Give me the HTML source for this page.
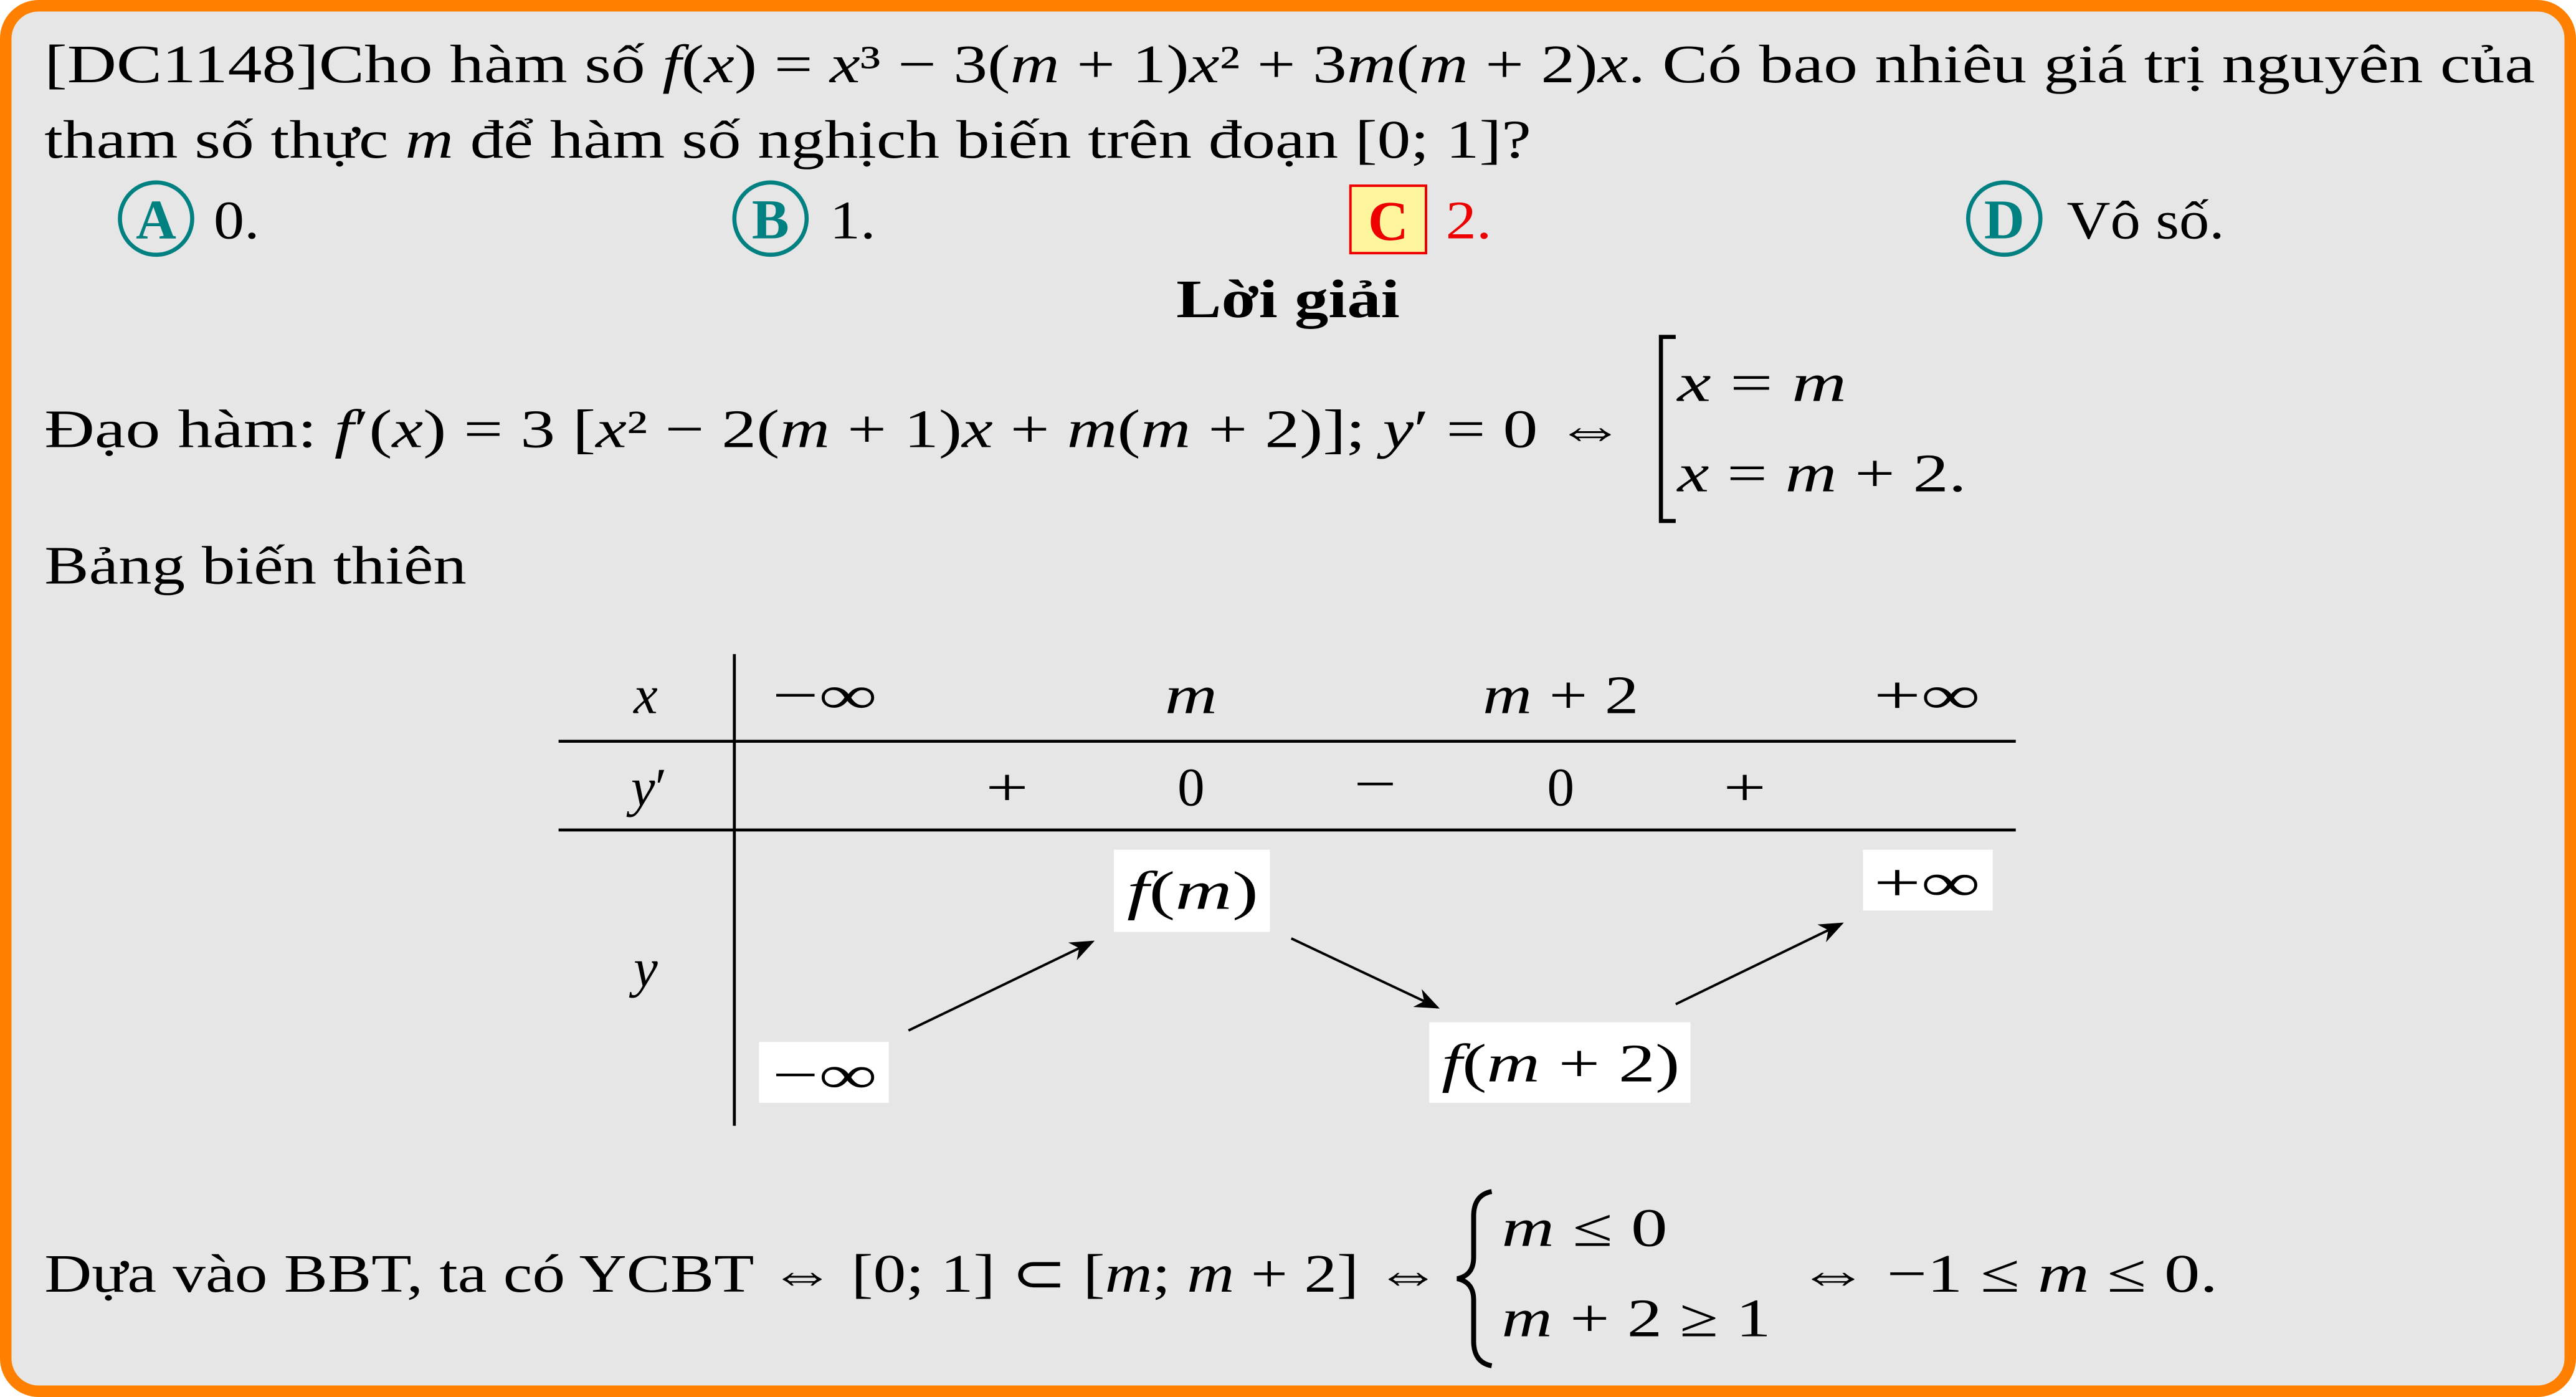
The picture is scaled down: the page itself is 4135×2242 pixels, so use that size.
<!DOCTYPE html>
<html><head><meta charset="utf-8">
<style>
html,body{margin:0;padding:0;background:#fff;}
svg{display:block;}
text{font-family:"Liberation Serif",serif;fill:#000;}
.m{font-style:italic;}
</style></head>
<body>
<svg width="4135" height="2242" viewBox="0 0 1568 850" preserveAspectRatio="none" xmlns="http://www.w3.org/2000/svg">
<rect x="3.5" y="3.5" width="1561" height="843" rx="20" fill="#e6e6e6" stroke="#ff8000" stroke-width="7"/>

<text x="27" y="50" font-size="33" textLength="1516" lengthAdjust="spacingAndGlyphs">[DC1148]Cho hàm số <tspan class="m">f</tspan>(<tspan class="m">x</tspan>) = <tspan class="m">x</tspan>³ − 3(<tspan class="m">m</tspan> + 1)<tspan class="m">x</tspan>² + 3<tspan class="m">m</tspan>(<tspan class="m">m</tspan> + 2)<tspan class="m">x</tspan>. Có bao nhiêu giá trị nguyên của</text>
<text x="27" y="96" font-size="33" textLength="905" lengthAdjust="spacingAndGlyphs">tham số thực <tspan class="m">m</tspan> để hàm số nghịch biến trên đoạn [0; 1]?</text>

<g>
<circle cx="95" cy="133" r="22" fill="none" stroke="#008080" stroke-width="2.5"/>
<text x="95" y="145" font-size="34" font-weight="bold" text-anchor="middle" style="fill:#008080">A</text>
<text x="130" y="145" font-size="33" textLength="28" lengthAdjust="spacingAndGlyphs">0.</text>
</g>
<g>
<circle cx="469" cy="133" r="22" fill="none" stroke="#008080" stroke-width="2.5"/>
<text x="469" y="145" font-size="34" font-weight="bold" text-anchor="middle" style="fill:#008080">B</text>
<text x="505" y="145" font-size="33" textLength="28" lengthAdjust="spacingAndGlyphs">1.</text>
</g>
<g>
<rect x="822" y="113" width="46" height="41" fill="#fff59d" stroke="#e00" stroke-width="1.5"/>
<text x="845" y="146" font-size="34" font-weight="bold" text-anchor="middle" style="fill:#e00">C</text>
<text x="880" y="145" font-size="33" style="fill:#e00" textLength="28" lengthAdjust="spacingAndGlyphs">2.</text>
</g>
<g>
<circle cx="1220" cy="133" r="22" fill="none" stroke="#008080" stroke-width="2.5"/>
<text x="1220" y="145" font-size="34" font-weight="bold" text-anchor="middle" style="fill:#008080">D</text>
<text x="1258" y="145" font-size="33" textLength="96" lengthAdjust="spacingAndGlyphs">Vô số.</text>
</g>

<text x="716" y="193" font-size="33" font-weight="bold" textLength="136" lengthAdjust="spacingAndGlyphs">Lời giải</text>

<text x="27" y="272" font-size="33" textLength="962" lengthAdjust="spacingAndGlyphs">Đạo hàm: <tspan class="m">f</tspan>′(<tspan class="m">x</tspan>) = 3 [<tspan class="m">x</tspan>² − 2(<tspan class="m">m</tspan> + 1)<tspan class="m">x</tspan> + <tspan class="m">m</tspan>(<tspan class="m">m</tspan> + 2)]; <tspan class="m">y</tspan>′ = 0 ⇔</text>
<path d="M1020 205 L1011 205 L1011 317 L1020 317" fill="none" stroke="#000" stroke-width="2.5"/>
<text x="1021" y="244" font-size="33" textLength="103" lengthAdjust="spacingAndGlyphs"><tspan class="m">x</tspan> = <tspan class="m">m</tspan></text>
<text x="1021" y="299" font-size="33" textLength="176" lengthAdjust="spacingAndGlyphs"><tspan class="m">x</tspan> = <tspan class="m">m</tspan> + 2.</text>

<text x="27" y="355" font-size="33" textLength="257" lengthAdjust="spacingAndGlyphs">Bảng biến thiên</text>

<g stroke="#000" stroke-width="1.8">
<line x1="447" y1="398" x2="447" y2="685"/>
<line x1="340" y1="451" x2="1227" y2="451"/>
<line x1="340" y1="505" x2="1227" y2="505"/>
</g>
<g font-size="33" text-anchor="middle">
<text x="393" y="434" class="m">x</text>
<text x="502" y="434" textLength="64" lengthAdjust="spacingAndGlyphs">−∞</text>
<text x="725" y="434" class="m" textLength="32" lengthAdjust="spacingAndGlyphs">m</text>
<text x="950" y="434" textLength="95" lengthAdjust="spacingAndGlyphs"><tspan class="m">m</tspan> + 2</text>
<text x="1173" y="434" textLength="65" lengthAdjust="spacingAndGlyphs">+∞</text>
<text x="395" y="490"><tspan class="m">y</tspan>′</text>
<text x="613" y="490" textLength="26" lengthAdjust="spacingAndGlyphs">+</text>
<text x="725" y="490">0</text>
<text x="837" y="488" textLength="26" lengthAdjust="spacingAndGlyphs">−</text>
<text x="950" y="490">0</text>
<text x="1062" y="490" textLength="26" lengthAdjust="spacingAndGlyphs">+</text>
<text x="393" y="600" class="m">y</text>
</g>
<g fill="#fff">
<rect x="678" y="517" width="95" height="50"/>
<rect x="1134" y="517" width="79" height="37"/>
<rect x="462" y="634" width="79" height="37"/>
<rect x="870" y="622" width="159" height="49"/>
</g>
<g font-size="33" text-anchor="middle">
<text x="726" y="553" textLength="80" lengthAdjust="spacingAndGlyphs"><tspan class="m">f</tspan>(<tspan class="m">m</tspan>)</text>
<text x="1173" y="548" textLength="65" lengthAdjust="spacingAndGlyphs">+∞</text>
<text x="502" y="665" textLength="64" lengthAdjust="spacingAndGlyphs">−∞</text>
<text x="950" y="658" textLength="145" lengthAdjust="spacingAndGlyphs"><tspan class="m">f</tspan>(<tspan class="m">m</tspan> + 2)</text>
</g>
<defs><marker id="ah" markerWidth="10" markerHeight="8" refX="9" refY="4" orient="auto"><path d="M0 0 L10 4 L0 8 L3 4 Z" fill="#000"/></marker></defs>
<g stroke="#000" stroke-width="1.5" marker-end="url(#ah)">
<line x1="553" y1="627" x2="665" y2="573"/>
<line x1="786" y1="571" x2="875" y2="613"/>
<line x1="1020" y1="611" x2="1121" y2="562"/>
</g>

<text x="27" y="786" font-size="33" textLength="850" lengthAdjust="spacingAndGlyphs">Dựa vào BBT, ta có YCBT ⇔ [0; 1] ⊂ [<tspan class="m">m</tspan>; <tspan class="m">m</tspan> + 2] ⇔</text>
<path d="M908 725 Q897 727 897 740 L897 765 Q897 776 887 778 Q897 780 897 791 L897 816 Q897 829 908 831" fill="none" stroke="#000" stroke-width="3"/>
<text x="914" y="758" font-size="33" textLength="101" lengthAdjust="spacingAndGlyphs"><tspan class="m">m</tspan> ≤ 0</text>
<text x="914" y="813" font-size="33" textLength="164" lengthAdjust="spacingAndGlyphs"><tspan class="m">m</tspan> + 2 ≥ 1</text>
<text x="1094" y="786" font-size="33" textLength="256" lengthAdjust="spacingAndGlyphs">⇔ −1 ≤ <tspan class="m">m</tspan> ≤ 0.</text>
</svg>
</body></html>
